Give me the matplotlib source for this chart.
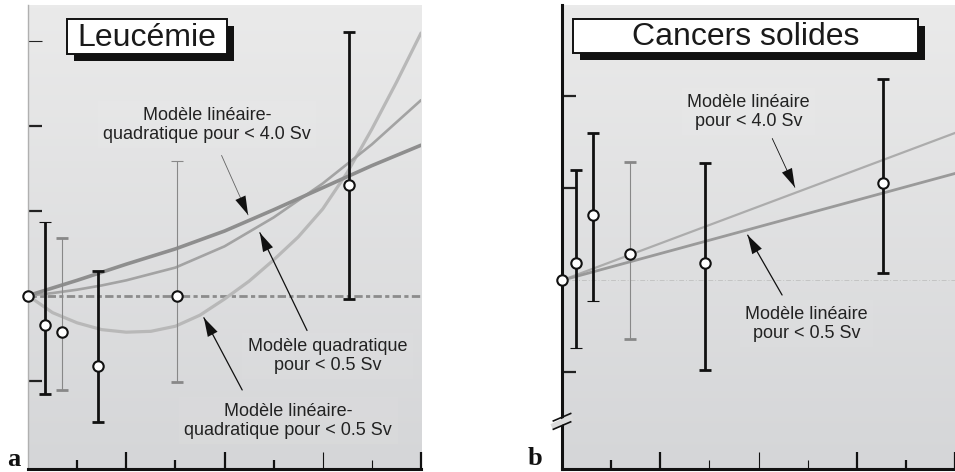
import numpy as np
import matplotlib.pyplot as plt
from matplotlib.patches import Rectangle

plt.rcParams['font.family'] = ['Liberation Sans', 'DejaVu Sans']

# --- Leucémie : excès de risque relatif observé selon la dose (Sv)
leu_dose = [0.17, 0.35, 0.71, 1.52, 3.27]
leu_err = [-0.35, -0.43, -0.83, 0.0, 1.30]
leu_haut = [0.87, 0.68, 0.29, 1.58, 3.10]
leu_bas = [-1.16, -1.11, -1.49, -1.02, -0.04]

# modèles ajustés
lq4_dose = [0, 0.5, 1.0, 1.5, 2.0, 2.5, 3.0, 3.5, 4.0]
lq4_err = [0, 0.18, 0.37, 0.55, 0.76, 1.01, 1.27, 1.53, 1.77]
quad_dose = [0, 0.25, 0.5, 0.75, 1.0, 1.5, 2.0, 2.5, 3.0, 3.5, 4.0]
quad_err = [0, 0.03, 0.07, 0.12, 0.18, 0.33, 0.58, 0.92, 1.32, 1.78, 2.30]
lq05_dose = [0, 0.25, 0.5, 0.75, 1.0, 1.25, 1.5, 1.75, 2.0, 2.25, 2.5,
             2.75, 3.0, 3.25, 3.5, 3.75, 4.0]
lq05_err = [0, -0.20, -0.32, -0.40, -0.43, -0.42, -0.36, -0.23, -0.04, 0.17,
            0.42, 0.69, 1.02, 1.45, 1.96, 2.51, 3.09]

# --- Cancers solides
cs_dose = [0.14, 0.32, 0.69, 1.46, 3.27]
cs_err = [0.19, 0.71, 0.29, 0.19, 1.06]
cs_haut = [1.20, 1.60, 1.29, 1.27, 2.19]
cs_bas = [-0.74, -0.22, -0.64, -0.98, 0.08]

lin4_dose = [0, 4.0]
lin4_err = [0, 1.60]
lin05_dose = [0, 4.0]
lin05_err = [0, 1.16]

# style des barres : (trait épais ?, chapeau haut épais ?, chapeau bas épais ?)
leu_style = [(True, False, True), (False, True, True), (True, True, True),
             (False, False, True), (True, True, True)]
cs_style = [(True, True, False), (True, True, False), (False, True, True),
            (True, True, True), (True, True, True)]

fig = plt.figure(figsize=(9.55, 4.72), dpi=100)
ax_a = fig.add_axes([28 / 955, 3 / 472, 393 / 955, 464 / 472])
ax_b = fig.add_axes([562 / 955, 3 / 472, 393 / 955, 464 / 472])


def fond_degrade(ax):
    grad = np.linspace(0, 1, 256).reshape(-1, 1)
    top = np.array([0.918, 0.918, 0.918])
    bot = np.array([0.835, 0.839, 0.847])
    img = top + (bot - top) * grad[..., None]
    ax.imshow(img, extent=[*ax.get_xlim(), *ax.get_ylim()], aspect='auto',
              origin='upper', zorder=0)


def barres(ax, x, y, hi, lo, styles):
    for xi, yi, h, l, (epais, cap_h, cap_b) in zip(x, y, hi, lo, styles):
        col = '#111111' if epais else '#888888'
        lw = 2.0 if epais else 0.8
        _, caps, _ = ax.errorbar([xi], [yi], yerr=[[yi - l], [h - yi]], fmt='none',
                                 ecolor=col, elinewidth=lw, capsize=4, zorder=4)
        for cap, fort in zip(caps, (cap_b, cap_h)):
            cap.set_color('#111111' if fort else '#888888')
            cap.set_markeredgewidth(2.0 if fort else 0.8)
        ax.plot([xi], [yi], 'o', ms=7.5, mfc='white', mec='#111111', mew=1.5,
                zorder=6, clip_on=False)


def axes_style(ax, ylim, yt, gris_y, gauche_noire, ticks_gris):
    ax.set_xlim(0, 4)
    ax.set_ylim(*ylim)
    for s in ['top', 'right']:
        ax.spines[s].set_visible(False)
    ax.spines['bottom'].set_linewidth(2.2)
    ax.spines['bottom'].set_color('#111111')
    if gauche_noire:
        ax.spines['left'].set_linewidth(2.2)
        ax.spines['left'].set_color('#111111')
    else:
        ax.spines['left'].set_linewidth(1.0)
        ax.spines['left'].set_color('#b0b0b0')
    ax.set_xticks([1, 2, 3, 4])
    ax.set_xticks([0.5, 1.5, 2.5, 3.5], minor=True)
    ax.set_yticks(yt)
    ax.tick_params(axis='x', which='major', direction='in', length=12.5, width=1.6,
                   color='#111111', labelbottom=False)
    ax.tick_params(axis='x', which='minor', direction='in', length=6.5, width=1.6,
                   color='#111111', labelbottom=False)
    ax.tick_params(axis='y', which='major', direction='in', length=10, width=1.6,
                   color='#222222', labelleft=False)
    ax.tick_params(axis='y', which='minor', left=False)
    ticks = ax.xaxis.get_major_ticks() + ax.xaxis.get_minor_ticks()
    valeurs = [1, 2, 3, 4, 0.5, 1.5, 2.5, 3.5]
    for t, v in zip(ticks, valeurs):
        if v in ticks_gris:
            t.tick1line.set_color('#999999')
            t.tick1line.set_markeredgewidth(0.8)
    for t, v in zip(ax.yaxis.get_major_ticks(), yt):
        if v in gris_y:
            t.tick1line.set_color('#aaaaaa')
            t.tick1line.set_markeredgewidth(0.8)
    fond_degrade(ax)


def cadre_titre(ax, x0, x1, y0, y1, texte):
    dx, dy = 7 / 393, 7 / 464
    ax.add_patch(Rectangle((x0 + dx, y0 - dy), x1 - x0, y1 - y0, transform=ax.transAxes,
                           facecolor='#111111', edgecolor='none', zorder=8))
    ax.add_patch(Rectangle((x0, y0), x1 - x0, y1 - y0, transform=ax.transAxes,
                           facecolor='white', edgecolor='#111111', lw=1.4, zorder=9))
    ax.text((x0 + x1) / 2, (y0 + y1) / 2 - 0.003, texte, transform=ax.transAxes,
            ha='center', va='center', fontsize=23, color='#1a1a1a', zorder=10)


def legende(ax, texte, xy, queue, pointe, couleur='#111111', lw=0.9):
    ax.text(xy[0], xy[1], texte, ha='center', va='center', fontsize=13,
            color='#222222', linespacing=1.15, zorder=7,
            bbox=dict(boxstyle='square,pad=0.3', facecolor='white', alpha=0.05,
                      edgecolor='none'))
    # trait fin puis pointe noire pleine
    ax.annotate('', xy=pointe, xytext=queue, zorder=7,
                arrowprops=dict(arrowstyle='-', color=couleur, lw=lw,
                                shrinkA=0, shrinkB=0))
    ax.annotate('', xy=pointe, xytext=queue, zorder=7,
                arrowprops=dict(arrowstyle='-|>,head_length=0.75,head_width=0.22',
                                color='#111111', lw=0.01, mutation_scale=18,
                                shrinkA=0, shrinkB=0))


# ---------------- a : Leucémie
axes_style(ax_a, (-2.04, 3.42), [-1, 1, 2, 3], gris_y=[3], gauche_noire=False,
           ticks_gris=[3, 3.5])
ax_a.axhline(0, color='#8c8c8c', lw=2.0, dashes=(3, 1.2, 1.5, 1.2), zorder=2)
ax_a.plot(lq05_dose, lq05_err, color='#b8b8b8', lw=2.3, zorder=3, solid_capstyle='round',
          solid_joinstyle='round')
ax_a.plot(quad_dose, quad_err, color='#a3a3a3', lw=1.9, zorder=3, solid_capstyle='round',
          solid_joinstyle='round')
ax_a.plot(lq4_dose, lq4_err, color='#8e8e8e', lw=2.6, zorder=3, solid_capstyle='round',
          solid_joinstyle='round')
barres(ax_a, leu_dose, leu_err, leu_haut, leu_bas, leu_style)
ax_a.plot([0], [0], 'o', ms=7.5, mfc='white', mec='#111111', mew=1.5, zorder=6,
          clip_on=False)

cadre_titre(ax_a, 0.099, 0.506, 0.894, 0.970, 'Leucémie')
legende(ax_a, 'Modèle linéaire-\nquadratique pour < 4.0 Sv', (1.82, 2.01),
        (1.97, 1.65), (2.24, 0.95), couleur='#666666', lw=0.6)
legende(ax_a, 'Modèle quadratique\npour < 0.5 Sv', (3.05, -0.71),
        (2.84, -0.41), (2.36, 0.74))
legende(ax_a, 'Modèle linéaire-\nquadratique pour < 0.5 Sv', (2.65, -1.47),
        (2.18, -1.11), (1.79, -0.26))

# ---------------- b : Cancers solides
axes_style(ax_b, (-2.05, 2.99), [-1, 1, 2], gris_y=[], gauche_noire=True,
           ticks_gris=[1.5, 2, 2.5])
ax_b.axhline(0, color='#c4c4c4', lw=0.7, dashes=(5, 2, 1, 2), zorder=2)
ax_b.plot(lin4_dose, lin4_err, color='#acacac', lw=1.6, zorder=3)
ax_b.plot(lin05_dose, lin05_err, color='#9a9a9a', lw=2.0, zorder=3)
barres(ax_b, cs_dose, cs_err, cs_haut, cs_bas, cs_style)
ax_b.plot([0], [0], 'o', ms=7.5, mfc='white', mec='#111111', mew=1.5, zorder=6,
          clip_on=False)

# coupure de l'axe vertical
yb = (469 - 420) / 464
ax_b.plot([-0.02, 0.02], [yb - 0.012, yb + 0.004], transform=ax_b.transAxes,
          color='#dcdcdc', lw=4, clip_on=False, zorder=10)
for dyb in (-0.012, 0.006):
    ax_b.plot([-0.022, 0.022], [yb + dyb - 0.008, yb + dyb + 0.008],
              transform=ax_b.transAxes, color='#111111', lw=1.2, clip_on=False, zorder=11)

cadre_titre(ax_b, 0.028, 0.906, 0.897, 0.970, 'Cancers solides')
legende(ax_b, 'Modèle linéaire\npour < 4.0 Sv', (1.90, 1.83),
        (2.14, 1.54), (2.37, 1.01), lw=0.6)
legende(ax_b, 'Modèle linéaire\npour < 0.5 Sv', (2.49, -0.47),
        (2.24, -0.16), (1.89, 0.49))

fig.text(7 / 955, 1 - 466 / 472, 'a', fontsize=19, fontweight='bold',
         family='Liberation Serif', color='#111111')
fig.text(528 / 955, 1 - 465 / 472, 'b', fontsize=19, fontweight='bold',
         family='Liberation Serif', color='#111111')

fig.savefig('out.png', dpi=100)
